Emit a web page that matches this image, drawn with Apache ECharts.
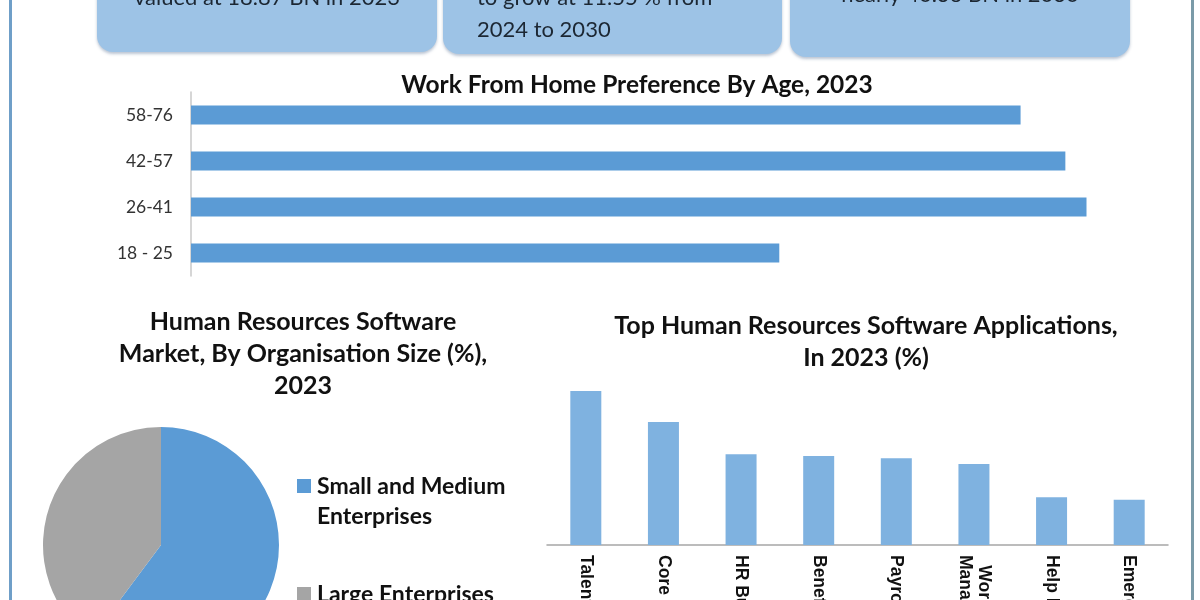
<!DOCTYPE html>
<html><head><meta charset="utf-8">
<script src="https://cdn.jsdelivr.net/npm/echarts@6/dist/echarts.min.js"></script>
<style>html,body{margin:0;padding:0;background:#fff}#c{width:1200px;height:600px}</style>
</head><body><div id="c"></div>
<script>
// ---- data ----
const ageGroups = ['18 - 25', '26-41', '42-57', '58-76'];
const wfhPreference = [47.3, 72.0, 70.3, 66.7];

const orgSizes = ['Small and Medium Enterprises', 'Large Enterprises'];
const orgShare = [60.2, 39.8];

const applications = ['Talent Management', 'Core HR', 'HR Business Intelligence', 'Benefits Administration', 'Payroll', 'Workforce\nManagement', 'Help Desk', 'Emerging Solutions'];
const appShare = [19.0, 15.2, 11.2, 11.0, 10.7, 10.0, 5.9, 5.6];

const headlineTexts = ['valued at 18.87 BN in 2023', 'to grow at 11.55 % from\n2024 to 2030', 'nearly 40.36 BN in 2030'];

const titleWFH = 'Work From Home Preference By Age, 2023';
const titleOrg = 'Human Resources Software\nMarket, By Organisation Size (%),\n2023';
const titleApps = 'Top Human Resources Software Applications,\nIn 2023 (%)';

// ---- chart ----
const pieColors = ['#5b9bd5', '#a5a5a5'];
const chart = echarts.init(document.getElementById('c'));

const boxes = [
  {x: 97, w: 340, b: 52, text: headlineTexts[0], align: 'center', ty: -18},
  {x: 443, w: 339, b: 54, text: headlineTexts[1], align: 'left', ty: -18},
  {x: 790, w: 340, b: 57, text: headlineTexts[2], align: 'center', ty: -21}
];
const graphics = [];
boxes.forEach(function (bx) {
  graphics.push({type: 'rect', shape: {x: bx.x, y: -30, width: bx.w, height: bx.b + 30, r: 16},
    style: {fill: '#9dc3e6', shadowBlur: 3, shadowOffsetY: 2, shadowColor: 'rgba(60,90,130,0.35)'}, z: 1});
  graphics.push({type: 'text', x: bx.align === 'center' ? bx.x + bx.w / 2 : bx.x + 34, y: bx.ty,
    style: {text: bx.text, fill: '#1c2733', font: '22px Lato', align: bx.align, verticalAlign: 'top', lineHeight: 32}, z: 2});
});
graphics.push({type: 'rect', shape: {x: 9, y: 0, width: 3, height: 600}, style: {fill: '#6f9fc8'}, z: 3});
graphics.push({type: 'rect', shape: {x: 1191, y: 0, width: 3, height: 600}, style: {fill: '#7b9ba8'}, z: 3});
// legend for pie
const legendY = [479, 587];
const legendLabels = ['Small and Medium\nEnterprises', 'Large Enterprises'];
orgSizes.forEach(function (n, i) {
  graphics.push({type: 'rect', shape: {x: 297, y: legendY[i], width: 14, height: 14}, style: {fill: pieColors[i]}});
  graphics.push({type: 'text', x: 317, y: legendY[i] - 7, style: {text: legendLabels[i], fill: '#111', font: 'bold 23px Lato', lineHeight: 30, verticalAlign: 'top'}});
});

chart.setOption({
  backgroundColor: '#ffffff',
  animation: false,
  title: [
    {text: titleWFH, left: 632, top: 68, textAlign: 'center', textStyle: {fontFamily: 'Lato', fontWeight: 'bold', fontSize: 24.5, color: '#111'}},
    {text: titleOrg, left: 298, top: 301, textAlign: 'center', textStyle: {fontFamily: 'Lato', fontWeight: 'bold', fontSize: 25, color: '#111', lineHeight: 32}},
    {text: titleApps, left: 861, top: 305, textAlign: 'center', textStyle: {fontFamily: 'Lato', fontWeight: 'bold', fontSize: 25, color: '#111', lineHeight: 32}}
  ],
  graphic: graphics,
  grid: [
    {left: 191, top: 92, width: 995, height: 184, containLabel: false, outerBoundsMode: 'none'},
    {left: 547, top: 383, width: 621, height: 162, containLabel: false, outerBoundsMode: 'none'}
  ],
  xAxis: [
    {gridIndex: 0, type: 'value', min: 0, max: 80, show: false},
    {gridIndex: 1, type: 'category', data: applications,
      axisLine: {lineStyle: {color: '#a6a6a6', width: 1.5}},
      axisTick: {length: 5, lineStyle: {color: '#a6a6a6'}},
      axisLabel: {rotate: -90, margin: 10, interval: 0, color: '#111',
        formatter: function (v) { return v.split('\n').map(function (s) { return '{c|' + s + '}'; }).join('\n'); },
        rich: {c: {align: 'center', color: '#111', fontFamily: 'Liberation Sans', fontWeight: 'bold', fontSize: 17.5, lineHeight: 19}}}}
  ],
  yAxis: [
    {gridIndex: 0, type: 'category', data: ageGroups,
      axisLine: {lineStyle: {color: '#c8c8c8', width: 1.5}},
      axisTick: {length: 5, lineStyle: {color: '#c8c8c8'}},
      axisLabel: {margin: 18, color: '#333', fontFamily: 'Lato', fontSize: 17.5}},
    {gridIndex: 1, type: 'value', min: 0, max: 20, show: false}
  ],
  series: [
    {type: 'bar', xAxisIndex: 0, yAxisIndex: 0, data: wfhPreference, barWidth: 19, itemStyle: {color: '#5b9bd5'}},
    {type: 'bar', xAxisIndex: 1, yAxisIndex: 1, data: appShare, barWidth: 31, itemStyle: {color: '#7fb2e0'}},
    {type: 'pie', center: [161, 545], radius: 118, startAngle: 90, clockwise: true,
      label: {show: false}, labelLine: {show: false},
      data: orgSizes.map(function (n, i) { return {name: n, value: orgShare[i], itemStyle: {color: pieColors[i]}}; })}
  ]
});
</script>
</body></html>
